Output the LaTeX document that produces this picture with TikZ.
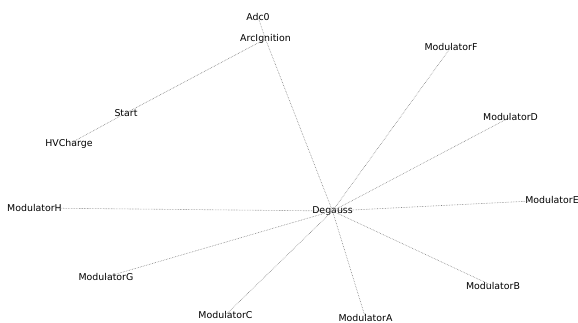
\documentclass[tikz,border=0pt]{standalone}
\usepackage{fontspec}
\setmainfont{DejaVu Sans}
\begin{document}
\begin{tikzpicture}[x=1pt,y=-1pt,
  lbl/.style={inner sep=0pt, font=\fontsize{9.4}{11}\selectfont, text=black},
  edge/.style={draw=black!50, line width=0.6pt, densely dotted}]
\useasboundingbox (0,0) rectangle (578,323);
\node[lbl] (adc) at (258,17) {Adc0};
\node[lbl] (arc) at (265.5,39) {ArcIgnition};
\node[lbl] (start) at (126,113) {Start};
\node[lbl] (hv) at (69,144) {HVCharge};
\node[lbl] (deg) at (332.5,211) {Degauss};
\node[lbl] (mh) at (34.5,208) {ModulatorH};
\node[lbl] (mg) at (106,277) {ModulatorG};
\node[lbl] (mc) at (225.5,315) {ModulatorC};
\node[lbl] (ma) at (365.5,318) {ModulatorA};
\node[lbl] (mb) at (493,286) {ModulatorB};
\node[lbl] (me) at (552,200) {ModulatorE};
\node[lbl] (md) at (510.5,117) {ModulatorD};
\node[lbl] (mf) at (451,47) {ModulatorF};
\path[edge] (adc.center) -- (arc.center);
\path[edge] (arc.center) -- (deg.center);
\path[edge] (arc.center) -- (start.center);
\path[edge] (start.center) -- (hv.center);
\foreach \m in {mh,mg,mc,ma,mb,me,md,mf} {
  \path[edge] (deg.center) -- (\m.center);
}
\end{tikzpicture}
\end{document}
